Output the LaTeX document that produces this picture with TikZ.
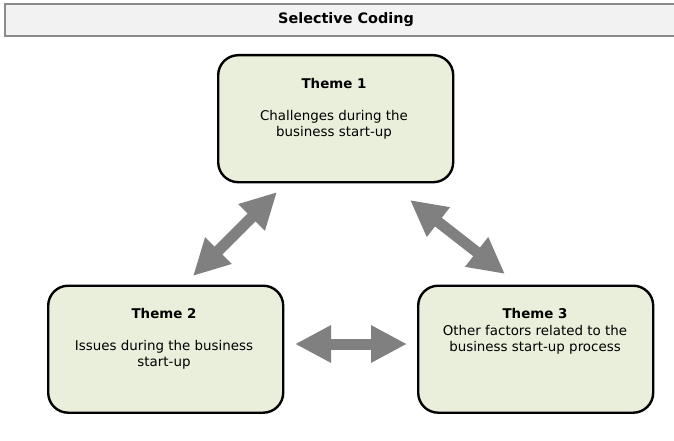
\documentclass[tikz,border=0pt]{standalone}
\usepackage{fontspec}
\setmainfont{DejaVu Sans}
\usetikzlibrary{arrows.meta}
\definecolor{boxfill}{HTML}{E9EFDA}
\definecolor{titlefill}{HTML}{F2F2F2}
\definecolor{titleline}{HTML}{8A8A8A}
\definecolor{arrowgray}{HTML}{808080}
\begin{document}
\begin{tikzpicture}[x=1pt,y=-1pt,
  theme/.style={draw=black, line width=2.4pt, fill=boxfill, rounded corners=20pt,
    minimum width=235pt, minimum height=127pt, anchor=north west},
  themetext/.style={align=center, font=\fontsize{13.4}{16}\selectfont, text=black, inner sep=0pt},
  themehead/.style={font=\bfseries\fontsize{13.4}{16}\selectfont, text=black, inner sep=0pt},
  bigarrow/.style={draw=arrowgray, line width=11pt,
    {Triangle[length=36pt,width=35pt]}-{Triangle[length=36pt,width=35pt]}},
]
\useasboundingbox (0,0) rectangle (674,441);
\begin{scope}
\clip (0,0) rectangle (674,441);
\node[draw=titleline, line width=2pt, fill=titlefill, minimum width=684pt, minimum height=32pt, anchor=north west, inner sep=0pt] (title) at (4,3.5) {};
\end{scope}
\node[font=\bfseries\fontsize{14.4}{16}\selectfont, inner sep=0pt] (titletext) at (346,19.5) {Selective Coding};

\node[theme] (t1) at (217,54) {};
\node[theme] (t2) at (47,284.5) {};
\node[theme] (t3) at (417,284.5) {};

\node[themehead] (t1h) at (334,84) {Theme 1};
\node[themetext] (t1b) at (334,124.5) {Challenges during the\\business start-up};

\node[themehead] (t2h) at (164,313.5) {Theme 2};
\node[themetext] (t2b) at (164,354.5) {Issues during the business\\start-up};

\node[themehead] (t3h) at (535,313.5) {Theme 3};
\node[themetext] (t3b) at (535,339.5) {Other factors related to the\\business start-up process};

\coordinate (a1s) at (193,276);
\coordinate (a1e) at (277,192);
\coordinate (a2s) at (410,200);
\coordinate (a2e) at (505,274);
\coordinate (a3s) at (295,344);
\coordinate (a3e) at (407,344);
\draw[bigarrow] (a1s) -- (a1e);
\draw[bigarrow] (a2s) -- (a2e);
\draw[bigarrow] (a3s) -- (a3e);
\end{tikzpicture}
\end{document}
